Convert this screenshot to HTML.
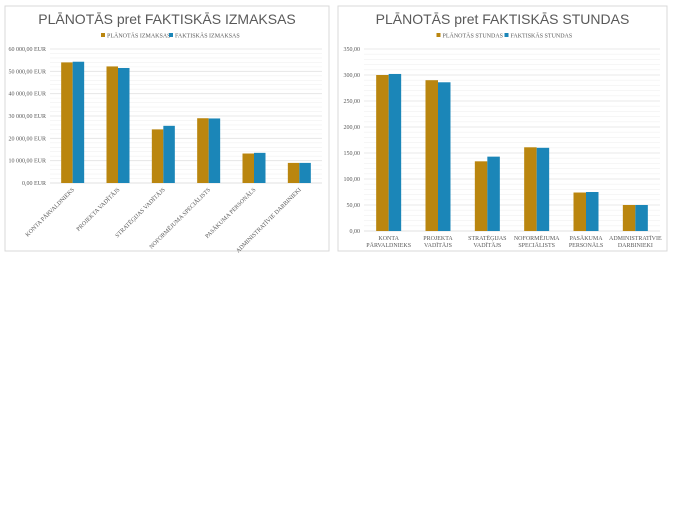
<!DOCTYPE html>
<html><head><meta charset="utf-8"><style>
body{margin:0;width:675px;height:520px;background:#fff;overflow:hidden;font-family:"Liberation Serif",serif}
svg{position:absolute;left:0;top:0}
</style></head><body>
<svg id="svg" width="675" height="520"></svg>
<script>
const categories1=["KONTA PĀRVALDNIEKS","PROJEKTA VADĪTĀJS","STRATĒĢIJAS VADĪTĀJS","NOFORMĒJUMA SPECIĀLISTS","PASĀKUMA PERSONĀLS","ADMINISTRATĪVIE DARBINIEKI"];
const planCost=[54000,52200,24000,29000,13200,9000];
const actualCost=[54300,51500,25600,28900,13500,9000];
const costTicks=[0,10000,20000,30000,40000,50000,60000];
const costTickLabels=["0,00 EUR","10 000,00 EUR","20 000,00 EUR","30 000,00 EUR","40 000,00 EUR","50 000,00 EUR","60 000,00 EUR"];
const categories2=[["KONTA","PĀRVALDNIEKS"],["PROJEKTA","VADĪTĀJS"],["STRATĒĢIJAS","VADĪTĀJS"],["NOFORMĒJUMA","SPECIĀLISTS"],["PASĀKUMA","PERSONĀLS"],["ADMINISTRATĪVIE","DARBINIEKI"]];
const planHours=[300,290,134,161,74,50];
const actualHours=[302,286,143,160,75,50];
const hourTicks=[0,50,100,150,200,250,300,350];
const hourTickLabels=["0,00","50,00","100,00","150,00","200,00","250,00","300,00","350,00"];

const NS="http://www.w3.org/2000/svg";
const svg=document.getElementById('svg');
function mk(tag,attrs,parent,text){const e=document.createElementNS(NS,tag);for(const k in attrs)e.setAttribute(k,attrs[k]);if(text!==undefined)e.textContent=text;(parent||svg).appendChild(e);return e;}
const GOLD="#BA860F",BLUE="#1B86B8",TXT="#595959";

function chart(o){
  const g=mk('g',{});
  
  
  const frame=mk('rect',{x:o.bx,y:o.by,width:o.bw,height:o.bh,fill:'#fff',stroke:'#d9d9d9','stroke-width':1},g);
  
  const t=mk('text',{x:o.bx+o.bw/2,y:o.by+18,'text-anchor':'middle','font-family':'Liberation Sans, sans-serif','font-size':14,fill:TXT},g,o.title);
  
  // legend
  const lx=o.bx+o.bw/2;
  const l1=mk('g',{},g);
  mk('rect',{x:lx-66,y:33,width:4,height:4,fill:GOLD},l1);
  mk('text',{x:lx-60,y:37.5,'font-size':6,fill:TXT},l1,o.leg[0]);
  const l2=mk('g',{},g);
  mk('rect',{x:lx+2,y:33,width:4,height:4,fill:BLUE},l2);
  mk('text',{x:lx+8,y:37.5,'font-size':6,fill:TXT},l2,o.leg[1]);
  const max=o.ticks[o.ticks.length-1];
  const y=v=>o.y0-(v/max)*(o.y0-o.y1);
  const step=o.ticks[1]-o.ticks[0];
  for(let v=0;v<=max+1e-9;v+=step/5){
    const ln=mk('line',{x1:o.x0,x2:o.x1,y1:y(v),y2:y(v),stroke:'#f0f0f0','stroke-width':0.6},g);
    
  }
  o.ticks.forEach((v,i)=>{
    const ln=mk('line',{x1:o.x0,x2:o.x1,y1:y(v),y2:y(v),stroke:i==0?'#d9d9d9':'#e3e3e3','stroke-width':0.8},g);
    
    const tl=mk('text',{x:o.x0-4,y:y(v)+2,'text-anchor':'end','font-size':6,fill:TXT},g,o.tickLabels[i]);
    
  });
  const cw=(o.x1-o.x0)/o.plan.length;
  o.plan.forEach((v,i)=>{
    const cx=o.x0+cw*(i+0.5);
    const b1=mk('rect',{x:cx-o.bw2,y:y(v),width:o.bw2,height:o.y0-y(v),fill:GOLD},g);
    
    const a=o.act[i];
    const b2=mk('rect',{x:cx,y:y(a),width:o.bw2,height:o.y0-y(a),fill:BLUE},g);
    
    let lab;
    if(o.rot){
      lab=mk('text',{x:cx+2,y:o.y0+7,'text-anchor':'end','font-size':6,fill:TXT,transform:`rotate(-45 ${cx+2} ${o.y0+7})`},g,o.cats[i]);
    }else{
      lab=mk('text',{x:cx,y:o.y0+9,'text-anchor':'middle','font-size':6,fill:TXT},g);
      o.cats[i].forEach((s,j)=>mk('tspan',{x:cx,dy:j?7:0},lab,s));
    }
    
  });
}
chart({name:'cost-chart',bx:5,by:6,bw:324,bh:245,title:'PLĀNOTĀS pret FAKTISKĀS IZMAKSAS',leg:['PLĀNOTĀS IZMAKSAS','FAKTISKĀS IZMAKSAS'],
  x0:50,x1:322,y0:183,y1:49,ticks:costTicks,tickLabels:costTickLabels,plan:planCost,act:actualCost,cats:categories1,rot:true,bw2:11.5});
chart({name:'hours-chart',bx:338,by:6,bw:329,bh:245,title:'PLĀNOTĀS pret FAKTISKĀS STUNDAS',leg:['PLĀNOTĀS STUNDAS','FAKTISKĀS STUNDAS'],
  x0:364,x1:660,y0:231,y1:49,ticks:hourTicks,tickLabels:hourTickLabels,plan:planHours,act:actualHours,cats:categories2,rot:false,bw2:12.5});
</script>
</body></html>
